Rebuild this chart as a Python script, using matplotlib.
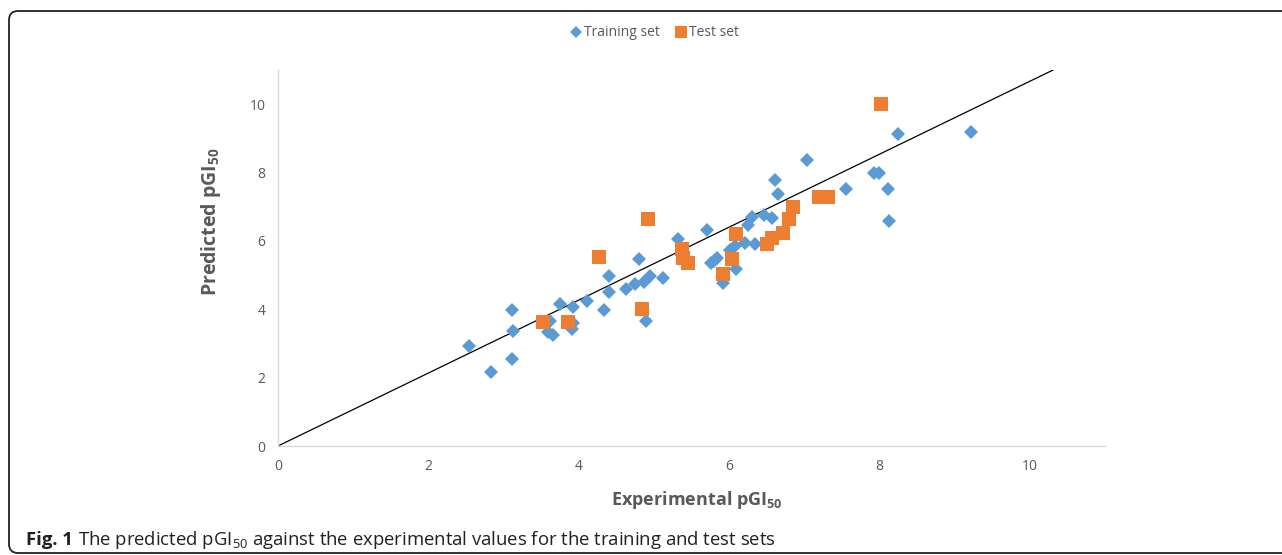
import matplotlib
matplotlib.use("Agg")
import matplotlib.pyplot as plt
from matplotlib.patches import FancyBboxPatch
from matplotlib.lines import Line2D

plt.rcParams['font.family'] = ['Open Sans', 'DejaVu Sans']
plt.rcParams['mathtext.fontset'] = 'custom'
plt.rcParams['mathtext.rm'] = 'Open Sans'
plt.rcParams['mathtext.bf'] = 'Open Sans:bold'
plt.rcParams['mathtext.it'] = 'Open Sans:italic'

train_x = [2.54, 2.83, 3.11, 3.13, 3.11, 3.62, 3.59, 3.66, 3.75, 3.93, 3.93, 3.91,
           4.11, 4.34, 4.40, 4.40, 4.63, 4.75, 4.80, 4.87, 4.95, 4.90, 5.12, 5.32,
           5.71, 5.76, 5.84, 5.80, 5.92, 6.01, 6.08, 6.09, 6.21, 6.35, 6.25, 6.31,
           6.47, 6.57, 6.61, 6.65, 7.04, 7.56, 7.93, 8.00, 8.12, 8.13, 8.25, 9.22]
train_y = [2.92, 2.16, 3.98, 3.36, 2.54, 3.65, 3.33, 3.24, 4.15, 4.07, 3.60, 3.42,
           4.24, 3.98, 4.97, 4.50, 4.59, 4.74, 5.47, 4.80, 4.97, 3.65, 4.91, 6.05,
           6.32, 5.35, 5.50, 5.42, 4.77, 5.73, 5.85, 5.18, 5.94, 5.91, 6.46, 6.70,
           6.75, 6.67, 7.78, 7.37, 8.36, 7.51, 7.98, 7.98, 7.51, 6.58, 9.12, 9.18]
test_x = [3.53, 3.86, 4.27, 4.84, 4.92, 5.38, 5.39, 5.46, 5.92, 6.04, 6.09,
          6.51, 6.57, 6.72, 6.80, 6.85, 7.20, 7.32, 8.02]
test_y = [3.63, 3.63, 5.53, 4.00, 6.64, 5.76, 5.50, 5.35, 5.03, 5.47, 6.20,
          5.91, 6.08, 6.23, 6.64, 6.99, 7.28, 7.28, 10.0]
trend_x = [0.0, 10.31]
trend_slope = 1.067
x_ticks = [0, 2, 4, 6, 8, 10]
y_ticks = [0, 2, 4, 6, 8, 10]

W, H = 1282, 555
fig = plt.figure(figsize=(W / 100, H / 100), dpi=100)
ax = fig.add_axes([278 / W, 1 - 446 / H, (1105 - 278) / W, (446 - 70) / H])

blue = '#5B9BD5'
orange = '#ED7D31'
gray = '#595959'

ax.plot([trend_x[0], trend_x[1]], [trend_slope * trend_x[0], trend_slope * trend_x[1]],
        color='black', lw=0.9, zorder=1)
ax.plot(train_x, train_y, linestyle='none', marker='D', markersize=7.5,
        color=blue, markeredgewidth=0, zorder=2)
ax.plot(test_x, test_y, linestyle='none', marker='s', markersize=9.5,
        color=orange, markeredgewidth=0, zorder=3)

ax.set_xlim(0, 11)
ax.set_ylim(0, 11)
ax.set_xticks(x_ticks)
ax.set_yticks(y_ticks)
ax.tick_params(length=0, labelsize=10, colors=gray, pad=9)
for s in ['top', 'right']:
    ax.spines[s].set_visible(False)
for s in ['left', 'bottom']:
    ax.spines[s].set_color('#D9D9D9')
    ax.spines[s].set_linewidth(1)

ax.set_xlabel(r'Experimental pGI$_\mathbf{50}$', fontsize=13, fontweight='bold', color=gray)
ax.xaxis.set_label_coords((697 - 278) / 827, -(500 - 446) / 376)
ax.set_ylabel(r'Predicted pGI$_\mathbf{50}$', fontsize=14, fontweight='bold', color=gray)
ax.yaxis.set_label_coords(-(278 - 211) / 827, (446 - 222) / 376)
ax.yaxis.label.set_va('center')
ax.xaxis.label.set_va('center')

handles = [Line2D([], [], linestyle='none', marker='D', markersize=6, color=blue, markeredgewidth=0),
           Line2D([], [], linestyle='none', marker='s', markersize=8, color=orange, markeredgewidth=0)]
leg = fig.legend(handles, ['Training set', 'Test set'], loc='center', ncol=2,
                 bbox_to_anchor=(654 / W, 1 - 33 / H), frameon=False, fontsize=10,
                 handletextpad=0.1, columnspacing=1.0, handlelength=1.0)
for t in leg.get_texts():
    t.set_color(gray)

box = FancyBboxPatch((0.09, 0.02), 13.0 - 0.09, 5.44 - 0.02,
                     boxstyle='round,pad=0,rounding_size=0.09', transform=fig.dpi_scale_trans,
                     facecolor='none', edgecolor='#222222', lw=1.3, clip_on=False)
fig.patches.append(box)

cap_y = 1 - 540 / H
t1 = fig.text(26 / W, cap_y, 'Fig. 1', fontsize=13.3, fontweight='bold',
              color='#231F20', va='center', ha='left')
fig.canvas.draw()
bb = t1.get_window_extent(renderer=fig.canvas.get_renderer())
fig.text((bb.x1 + 5) / W, cap_y,
         r'The predicted pGI$_{50}$ against the experimental values for the training and test sets',
         fontsize=13.3, color='#231F20', va='center', ha='left')

fig.savefig('out.png', dpi=100)
